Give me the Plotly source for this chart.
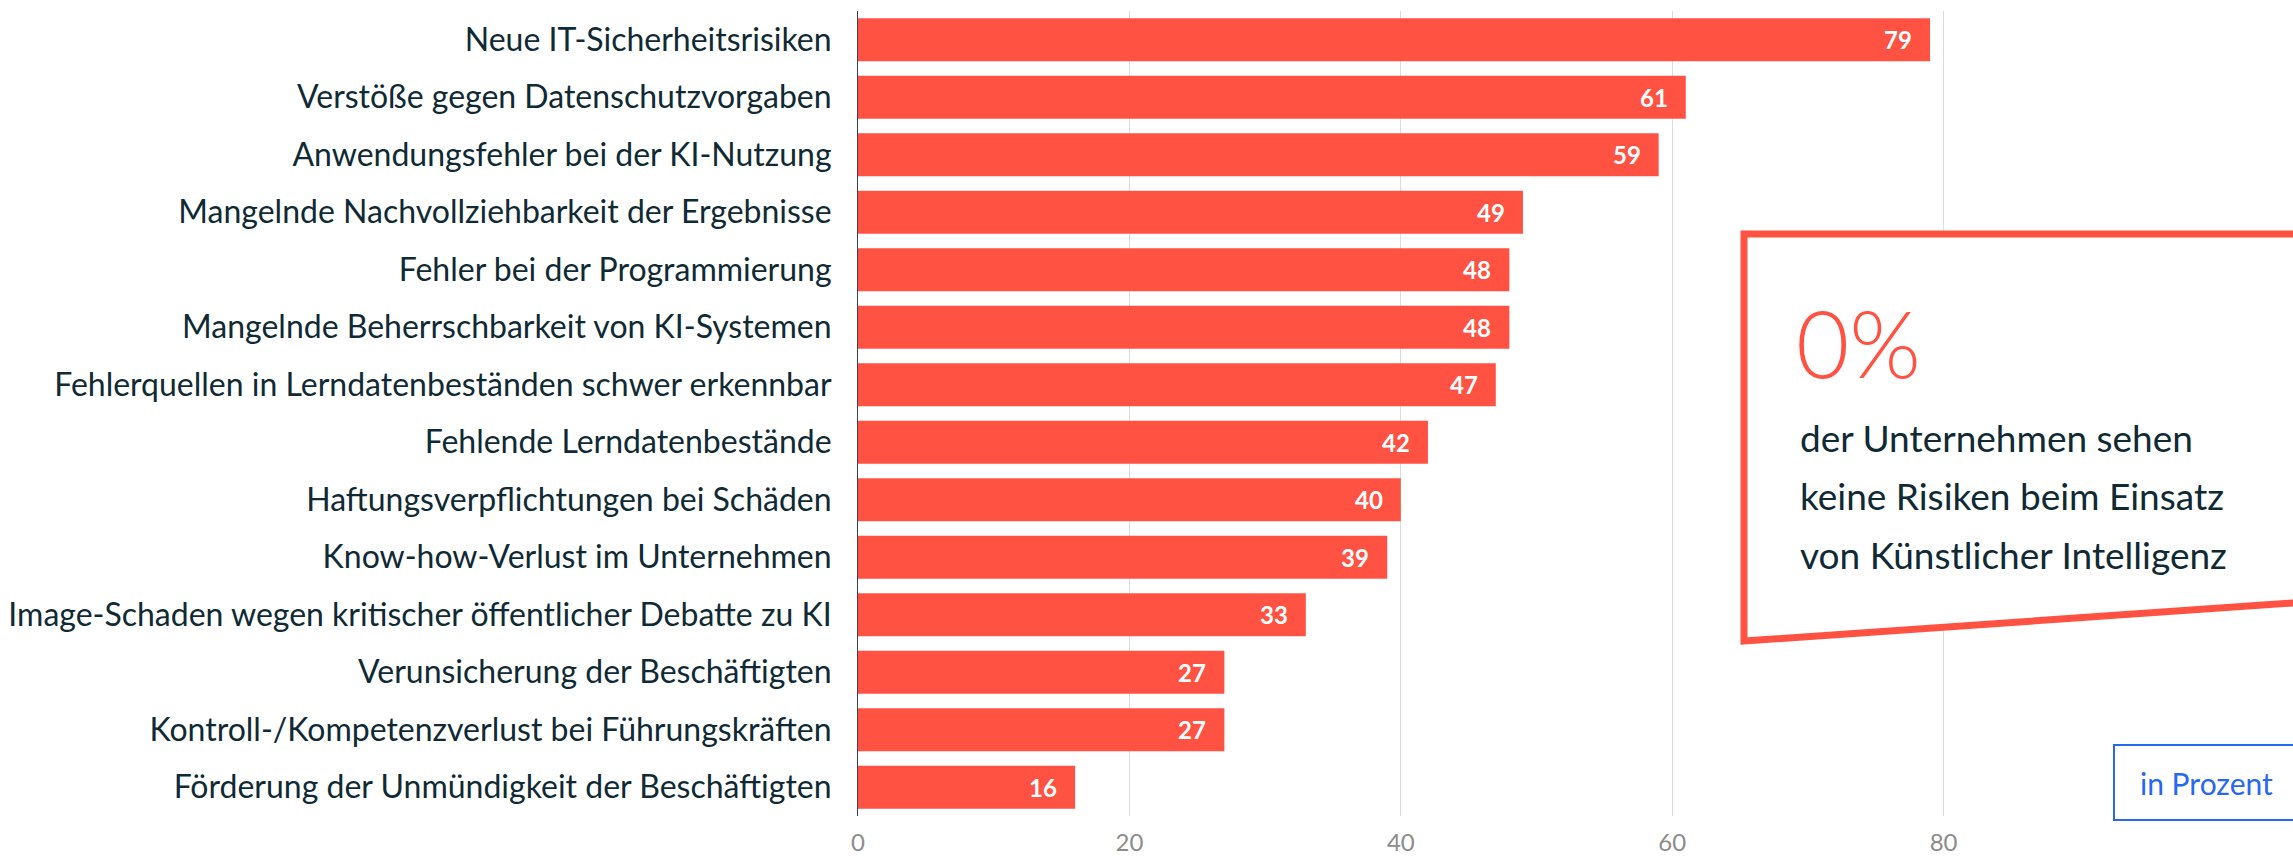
import plotly.graph_objects as go

# ---------------------------------------------------------------------------
# Data
# ---------------------------------------------------------------------------
risks = [
    "Neue IT-Sicherheitsrisiken",
    "Verstöße gegen Datenschutzvorgaben",
    "Anwendungsfehler bei der KI-Nutzung",
    "Mangelnde Nachvollziehbarkeit der Ergebnisse",
    "Fehler bei der Programmierung",
    "Mangelnde Beherrschbarkeit von KI-Systemen",
    "Fehlerquellen in Lerndatenbeständen schwer erkennbar",
    "Fehlende Lerndatenbestände",
    "Haftungsverpflichtungen bei Schäden",
    "Know-how-Verlust im Unternehmen",
    "Image-Schaden wegen kritischer öffentlicher Debatte zu KI",
    "Verunsicherung der Beschäftigten",
    "Kontroll-/Kompetenzverlust bei Führungskräften",
    "Förderung der Unmündigkeit der Beschäftigten",
]
shares = [79, 61, 59, 49, 48, 48, 47, 42, 40, 39, 33, 27, 27, 16]
x_ticks = [0, 20, 40, 60, 80]

callout_value = "0%"
callout_lines = [
    "der Unternehmen sehen",
    "keine Risiken beim Einsatz",
    "von Künstlicher Intelligenz",
]
unit_note = "in Prozent"

RED = "#ff5243"
DARK = "#0f2a35"
BLUE = "#2767f2"
FONT = "Lato"

W, H = 2293, 859
M_L, M_R, M_T, M_B = 858, 0, 11, 43
PW, PH = W - M_L - M_R, H - M_T - M_B


def px_x(px):
    return (px - M_L) / PW


def px_y(py):
    return (H - M_B - py) / PH


fig = go.Figure()
fig.add_trace(go.Bar(
    x=shares, y=risks, orientation="h",
    marker=dict(color=RED, line=dict(width=0)),
    hoverinfo="skip",
))

# value labels inside the bar ends
for r, v in zip(risks, shares):
    fig.add_annotation(
        x=v, y=r, xref="x", yref="y", text=f"<b>{v}</b>",
        showarrow=False, xanchor="right", yanchor="middle", xshift=-16,
        font=dict(family=FONT, size=24, color="white"),
    )

# skewed callout box
x_l, x_r = px_x(1744), 1.01
fig.add_shape(
    type="path", xref="paper", yref="paper",
    path=f"M {x_l} {px_y(234)} L {x_r} {px_y(234)} L {x_r} {px_y(602)} L {x_l} {px_y(641)} Z",
    line=dict(color=RED, width=7), fillcolor="white", layer="above",
)
fig.add_annotation(
    x=px_x(1794), y=px_y(342), xref="paper", yref="paper", text=callout_value,
    showarrow=False, xanchor="left", yanchor="middle",
    font=dict(family=FONT, size=92, color=RED, weight=300),
)
for i, line in enumerate(callout_lines):
    fig.add_annotation(
        x=px_x(1798), y=px_y(437 + 58.5 * i), xref="paper", yref="paper", text=line,
        showarrow=False, xanchor="left", yanchor="middle",
        font=dict(family=FONT, size=37, color=DARK),
    )

# unit box
fig.add_shape(
    type="rect", xref="paper", yref="paper",
    x0=px_x(2114), x1=1.01, y0=px_y(820), y1=px_y(745),
    line=dict(color=BLUE, width=2), fillcolor="white", layer="above",
)
fig.add_annotation(
    x=px_x(2138), y=px_y(783), xref="paper", yref="paper", text=unit_note,
    showarrow=False, xanchor="left", yanchor="middle",
    font=dict(family=FONT, size=30, color=BLUE),
)

fig.update_layout(
    width=W, height=H,
    margin=dict(l=M_L, r=M_R, t=M_T, b=M_B, autoexpand=False),
    plot_bgcolor="white", paper_bgcolor="white",
    bargap=0.256, showlegend=False,
    font=dict(family=FONT, color=DARK),
)
fig.update_xaxes(
    range=[0, PW / 13.57], tickvals=x_ticks, showgrid=True, gridcolor="#dcdcdc",
    gridwidth=1, zeroline=False, showline=False, automargin=False,
    tickfont=dict(family=FONT, size=24, color="#8c8c8c"), ticklabelstandoff=10,
)
fig.update_yaxes(
    autorange="reversed", showgrid=False, showline=True, linecolor="#34434a",
    linewidth=1, automargin=False, tickfont=dict(family=FONT, size=32, color=DARK),
    ticklabelstandoff=19,
)

# page has a default 8px body margin; drop it so the chart fills the window
fig.write_html(
    "out.html",
    config={"displayModeBar": False},
    post_script="document.body.style.margin = '0';",
)
